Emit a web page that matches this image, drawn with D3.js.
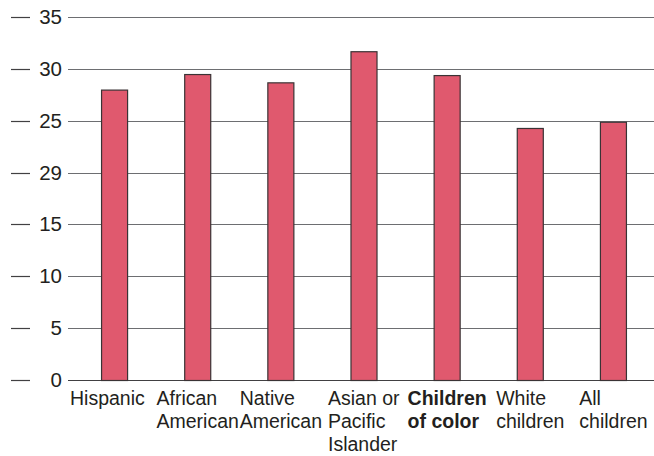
<!DOCTYPE html>
<html>
<head>
<meta charset="utf-8">
<script src="https://cdn.jsdelivr.net/npm/d3@7/dist/d3.min.js"></script>
<style>
  html, body { margin: 0; padding: 0; background: #fff; }
  svg { display: block; }
  text { font-family: "Liberation Sans", Arial, Helvetica, sans-serif; fill: #231f20; }
</style>
</head>
<body>
<svg id="chart" width="654" height="456"></svg>
<script>
// ---- data ----
const categories = ["Hispanic", "African American", "Native American", "Asian or Pacific Islander", "Children of color", "White children", "All children"];
const labelLines = [["Hispanic"], ["African", "American"], ["Native", "American"], ["Asian or", "Pacific", "Islander"], ["Children", "of color"], ["White", "children"], ["All", "children"]];
const boldCategories = ["Children of color"];
const values = [28.0, 29.5, 28.7, 31.7, 29.4, 24.3, 24.9];
const tickValues = [0, 5, 10, 15, 20, 25, 30, 35];
const tickLabels = ["0", "5", "10", "15", "29", "25", "30", "35"];

// ---- layout ----
const svg = d3.select("#chart");
const W = 654, H = 456;
const y = d3.scaleLinear().domain([0, 35]).range([380, 17]);
const x = d3.scaleBand().domain(categories).range([73, 655])
  .paddingInner(0.675).paddingOuter(0.3375);

const gridColor = "#6d6e71";

// gridlines
svg.append("g").selectAll("line.grid").data(tickValues).join("line")
  .attr("class", "grid")
  .attr("x1", 68).attr("x2", W)
  .attr("y1", d => Math.round(y(d)) + 0.5).attr("y2", d => Math.round(y(d)) + 0.5)
  .attr("stroke", d => d === 0 ? "#414042" : gridColor)
  .attr("stroke-width", 1.2);

// left tick dashes
svg.append("g").selectAll("line.tick").data(tickValues).join("line")
  .attr("x1", 11).attr("x2", 30)
  .attr("y1", d => Math.round(y(d)) + 0.5).attr("y2", d => Math.round(y(d)) + 0.5)
  .attr("stroke", "#414042").attr("stroke-width", 1.2);

// tick labels
svg.append("g").selectAll("text.tl").data(tickValues).join("text")
  .attr("class", "tl")
  .attr("x", 62).attr("y", d => y(d) + 7)
  .attr("text-anchor", "end")
  .attr("font-size", 20.5)
  .text((d, i) => tickLabels[i]);

// bars
svg.append("g").selectAll("rect").data(categories).join("rect")
  .attr("x", d => x(d) + 0.5)
  .attr("y", (d, i) => y(values[i]) + 0.5)
  .attr("width", x.bandwidth() - 1)
  .attr("height", (d, i) => y(0) - y(values[i]))
  .attr("fill", "#e0596e")
  .attr("stroke", "#3a3335")
  .attr("stroke-width", 1.2);

// category labels (left-aligned lines, block centered on band)
const lg = svg.append("g");
categories.forEach((c, i) => {
  const t = lg.append("text")
    .attr("font-size", 19.5)
    .attr("font-weight", boldCategories.includes(c) ? "bold" : "normal")
    .attr("y", 405);
  labelLines[i].forEach((ln, j) => {
    t.append("tspan").attr("x", 0).attr("dy", j === 0 ? 0 : 23).text(ln);
  });
  const w = t.node().getBBox().width;
  let left = x(c) + x.bandwidth() / 2 - w / 2;
  if (i === 0) left = Math.min(left, 70);
  t.attr("transform", `translate(${left},0)`);
});
</script>
</body>
</html>
